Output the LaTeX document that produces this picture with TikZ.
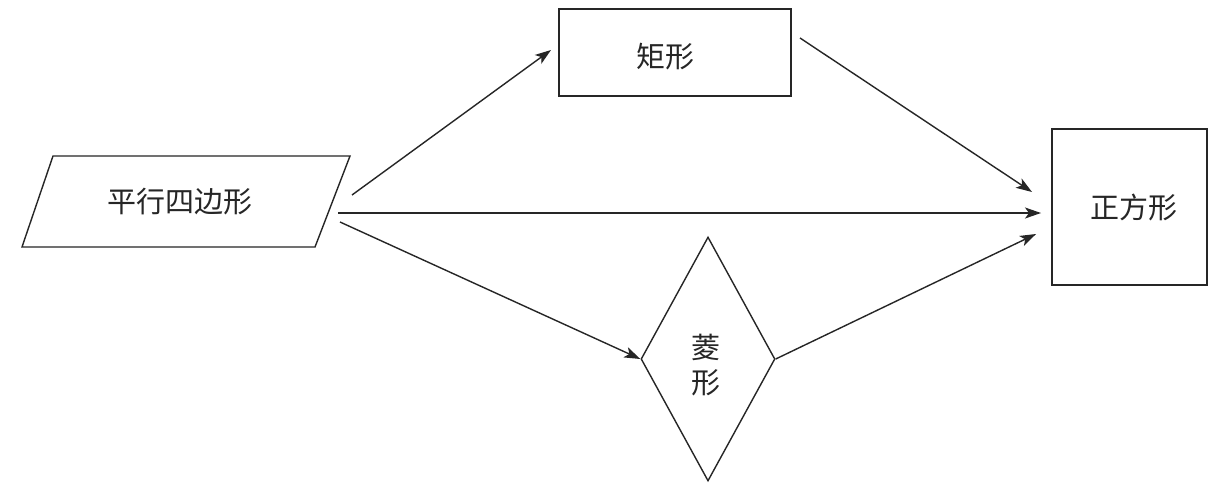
\documentclass[tikz,border=0pt]{standalone}
\usepackage{fontspec}
\newfontfamily\cjk{Noto Sans CJK SC}
\usetikzlibrary{arrows.meta,shapes.geometric}
\begin{document}
\begin{tikzpicture}[x=1pt,y=-1pt,
  shapeline/.style={draw=black!85, line width=1.4pt},
  lbl/.style={font=\cjk\fontsize{29}{35}\selectfont, text=black!85, inner sep=0pt, align=center},
  conn/.style={draw=black!85, line width=1.4pt, -{Stealth[length=16pt,width=11pt,inset=4pt]}}]
\useasboundingbox[fill=white] (0,0) rectangle (1230,490);
% parallelogram
\draw[shapeline] (53,156) coordinate (p1) -- (350,156) -- (315,247) -- (22,247) -- cycle;
\node[lbl] (para) at (180,202) {平行四边形};
% rectangle
\node[shapeline, rectangle, minimum width=232pt, minimum height=87pt, inner sep=0pt] (rect) at (675,52.5) {};
\node[lbl] (recttxt) at (665,57) {矩形};
% square
\node[shapeline, rectangle, minimum width=155pt, minimum height=156pt, inner sep=0pt] (sq) at (1129.5,207) {};
\node[lbl] (sqtxt) at (1134,207) {正方形};
% diamond
\node[shapeline, diamond, minimum width=134pt, minimum height=244pt, inner sep=0pt] (dia) at (708,359) {};
\node[lbl] (diatxt) at (706,365) {菱\\形};
% connector endpoints
\coordinate (s1) at (352,195);
\coordinate (e1) at (551,50);
\coordinate (s2) at (338,213);
\coordinate (e2) at (1041,213);
\coordinate (s3) at (340,222);
\coordinate (s4) at (800,38);
\coordinate (e4) at (1032,192);
\coordinate (e5) at (1036,234);
\draw[conn] (s1) -- (e1);
\draw[conn] (s2) -- (e2);
\draw[conn] (s3) -- (dia.west);
\draw[conn] (s4) -- (e4);
\draw[conn] (dia.east) -- (e5);
\end{tikzpicture}
\end{document}
